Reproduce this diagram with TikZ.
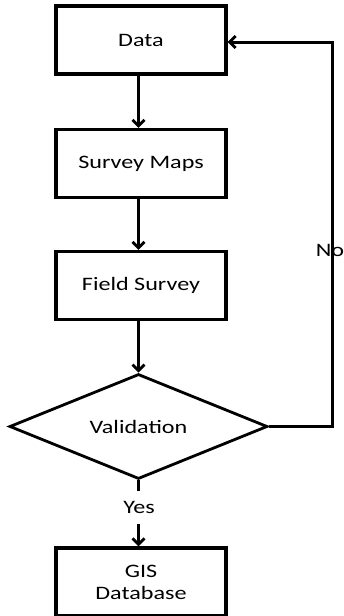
\documentclass[tikz,border=0pt]{standalone}
\usepackage{fontspec}
\setmainfont[FakeStretch=1.27]{Carlito}
\usetikzlibrary{shapes.geometric,arrows.meta}
\begin{document}
\begin{tikzpicture}[x=1pt,y=-1pt,
  every node/.style={font=\fontsize{19}{22}\selectfont},
  procbox/.style={draw,line width=3.2pt,minimum width=170pt,minimum height=68pt,inner sep=0pt,align=center},
  decision/.style={draw,diamond,line width=2.8pt,shape aspect=2.457,minimum width=258pt,minimum height=105pt,inner sep=0pt},
  flow/.style={line width=3pt,-{Straight Barb[length=6pt,width=12pt,line width=2.8pt]}},
  plain/.style={line width=3pt}]
\useasboundingbox (0,0) rectangle (344,616);
\clip (0,0) rectangle (344,616);
\node[procbox] (data) at (141,40) {Data};
\node[procbox] (maps) at (141,163.5) {Survey Maps};
\node[procbox] (field) at (141,285.5) {Field Survey};
\node[decision] (valid) at (138.5,426.5) {Validation};
\node[procbox] (gis) at (141,582) {GIS\\Database};
\node (yes) at (139,507) {Yes};
\coordinate (c1) at (332,426.5);
\coordinate (c2) at (332,42);
\coordinate (y1) at (138.5,491);
\coordinate (y2) at (138.5,524);
\draw[flow] (data.south -| valid.north) -- (maps.north -| valid.north);
\draw[flow] (maps.south -| valid.north) -- (field.north -| valid.north);
\draw[flow] (field.south -| valid.north) -- (valid.north);
\draw[plain] (valid.south) -- (y1);
\draw[flow] (y2) -- (gis.north -| y2);
\draw[flow] (valid.east) -- (c1) -- (c2) -- (data.east |- c2);
\node (no) at (330,250) {No};
\end{tikzpicture}
\end{document}
